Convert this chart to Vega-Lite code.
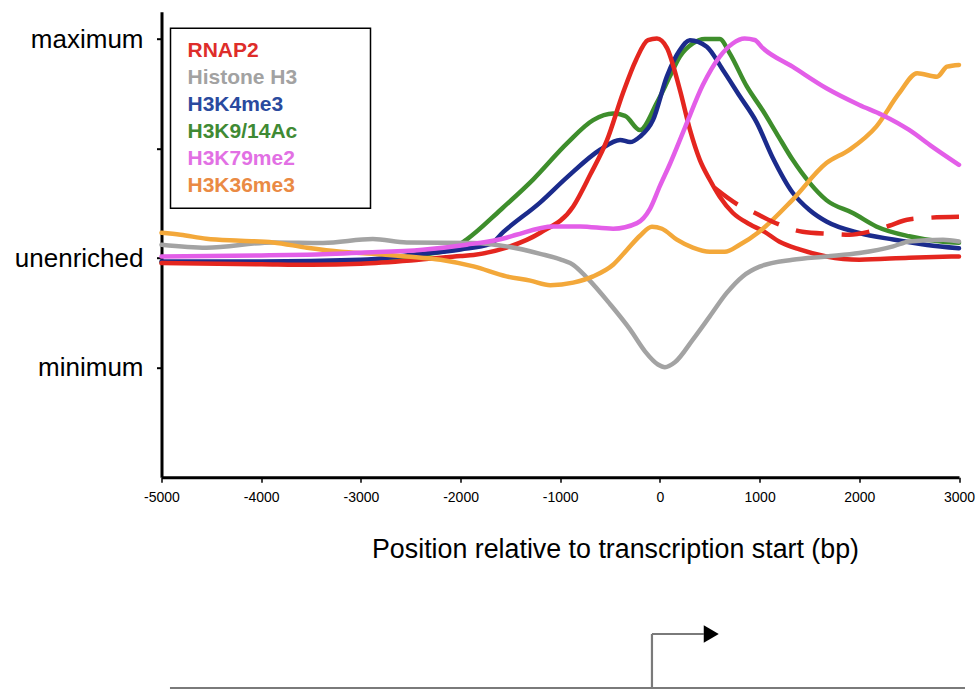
{
  "$schema": "https://vega.github.io/schema/vega-lite/v6.json",
  "background": "white",
  "autosize": {"type": "none"},
  "padding": {"left": 161.5, "top": 11.7, "right": 19, "bottom": 211.7},
  "width": 797.5,
  "height": 465.6,
  "config": {"font": "Liberation Sans", "view": {"stroke": null}},
  "resolve": {"scale": {"y": "independent"}, "axis": {"y": "independent"}},
  "layer": [
    {
      "data": {"values": [
        {"series": "H3K9/14Ac", "part": "solid", "pos": -5000, "enrich": -0.04},
        {"series": "H3K9/14Ac", "part": "solid", "pos": -4000, "enrich": -0.04},
        {"series": "H3K9/14Ac", "part": "solid", "pos": -3000, "enrich": -0.03},
        {"series": "H3K9/14Ac", "part": "solid", "pos": -2400, "enrich": 0.03},
        {"series": "H3K9/14Ac", "part": "solid", "pos": -2100, "enrich": 0.08},
        {"series": "H3K9/14Ac", "part": "solid", "pos": -1940, "enrich": 0.17},
        {"series": "H3K9/14Ac", "part": "solid", "pos": -1600, "enrich": 0.44},
        {"series": "H3K9/14Ac", "part": "solid", "pos": -1270, "enrich": 0.72},
        {"series": "H3K9/14Ac", "part": "solid", "pos": -930, "enrich": 1.05},
        {"series": "H3K9/14Ac", "part": "solid", "pos": -670, "enrich": 1.26},
        {"series": "H3K9/14Ac", "part": "solid", "pos": -470, "enrich": 1.32},
        {"series": "H3K9/14Ac", "part": "solid", "pos": -350, "enrich": 1.30},
        {"series": "H3K9/14Ac", "part": "solid", "pos": -200, "enrich": 1.17},
        {"series": "H3K9/14Ac", "part": "solid", "pos": -30, "enrich": 1.42},
        {"series": "H3K9/14Ac", "part": "solid", "pos": 100, "enrich": 1.66},
        {"series": "H3K9/14Ac", "part": "solid", "pos": 200, "enrich": 1.84},
        {"series": "H3K9/14Ac", "part": "solid", "pos": 330, "enrich": 1.96},
        {"series": "H3K9/14Ac", "part": "solid", "pos": 450, "enrich": 2.0},
        {"series": "H3K9/14Ac", "part": "solid", "pos": 600, "enrich": 2.0},
        {"series": "H3K9/14Ac", "part": "solid", "pos": 700, "enrich": 1.87},
        {"series": "H3K9/14Ac", "part": "solid", "pos": 870, "enrich": 1.57},
        {"series": "H3K9/14Ac", "part": "solid", "pos": 1030, "enrich": 1.35},
        {"series": "H3K9/14Ac", "part": "solid", "pos": 1170, "enrich": 1.14},
        {"series": "H3K9/14Ac", "part": "solid", "pos": 1330, "enrich": 0.90},
        {"series": "H3K9/14Ac", "part": "solid", "pos": 1500, "enrich": 0.69},
        {"series": "H3K9/14Ac", "part": "solid", "pos": 1670, "enrich": 0.53},
        {"series": "H3K9/14Ac", "part": "solid", "pos": 1940, "enrich": 0.41},
        {"series": "H3K9/14Ac", "part": "solid", "pos": 2170, "enrich": 0.29},
        {"series": "H3K9/14Ac", "part": "solid", "pos": 2500, "enrich": 0.20},
        {"series": "H3K9/14Ac", "part": "solid", "pos": 2840, "enrich": 0.15},
        {"series": "H3K9/14Ac", "part": "solid", "pos": 3000, "enrich": 0.14},

        {"series": "H3K4me3", "part": "solid", "pos": -5000, "enrich": -0.03},
        {"series": "H3K4me3", "part": "solid", "pos": -4000, "enrich": -0.03},
        {"series": "H3K4me3", "part": "solid", "pos": -3000, "enrich": -0.015},
        {"series": "H3K4me3", "part": "solid", "pos": -2500, "enrich": 0.03},
        {"series": "H3K4me3", "part": "solid", "pos": -2000, "enrich": 0.08},
        {"series": "H3K4me3", "part": "solid", "pos": -1700, "enrich": 0.13},
        {"series": "H3K4me3", "part": "solid", "pos": -1570, "enrich": 0.24},
        {"series": "H3K4me3", "part": "solid", "pos": -1200, "enrich": 0.51},
        {"series": "H3K4me3", "part": "solid", "pos": -930, "enrich": 0.74},
        {"series": "H3K4me3", "part": "solid", "pos": -600, "enrich": 0.99},
        {"series": "H3K4me3", "part": "solid", "pos": -400, "enrich": 1.08},
        {"series": "H3K4me3", "part": "solid", "pos": -300, "enrich": 1.06},
        {"series": "H3K4me3", "part": "solid", "pos": -200, "enrich": 1.11},
        {"series": "H3K4me3", "part": "solid", "pos": -70, "enrich": 1.26},
        {"series": "H3K4me3", "part": "solid", "pos": 70, "enrich": 1.66},
        {"series": "H3K4me3", "part": "solid", "pos": 200, "enrich": 1.90},
        {"series": "H3K4me3", "part": "solid", "pos": 300, "enrich": 1.99},
        {"series": "H3K4me3", "part": "solid", "pos": 470, "enrich": 1.93},
        {"series": "H3K4me3", "part": "solid", "pos": 630, "enrich": 1.72},
        {"series": "H3K4me3", "part": "solid", "pos": 800, "enrich": 1.48},
        {"series": "H3K4me3", "part": "solid", "pos": 970, "enrich": 1.24},
        {"series": "H3K4me3", "part": "solid", "pos": 1130, "enrich": 0.92},
        {"series": "H3K4me3", "part": "solid", "pos": 1330, "enrich": 0.60},
        {"series": "H3K4me3", "part": "solid", "pos": 1500, "enrich": 0.44},
        {"series": "H3K4me3", "part": "solid", "pos": 1670, "enrich": 0.335},
        {"series": "H3K4me3", "part": "solid", "pos": 2000, "enrich": 0.23},
        {"series": "H3K4me3", "part": "solid", "pos": 2340, "enrich": 0.17},
        {"series": "H3K4me3", "part": "solid", "pos": 2680, "enrich": 0.12},
        {"series": "H3K4me3", "part": "solid", "pos": 3000, "enrich": 0.09},

        {"series": "RNAP2", "part": "solid", "pos": -5000, "enrich": -0.045},
        {"series": "RNAP2", "part": "solid", "pos": -4000, "enrich": -0.055},
        {"series": "RNAP2", "part": "solid", "pos": -3500, "enrich": -0.06},
        {"series": "RNAP2", "part": "solid", "pos": -3000, "enrich": -0.05},
        {"series": "RNAP2", "part": "solid", "pos": -2500, "enrich": -0.02},
        {"series": "RNAP2", "part": "solid", "pos": -2000, "enrich": 0.02},
        {"series": "RNAP2", "part": "solid", "pos": -1870, "enrich": 0.03},
        {"series": "RNAP2", "part": "solid", "pos": -1540, "enrich": 0.096},
        {"series": "RNAP2", "part": "solid", "pos": -1200, "enrich": 0.232},
        {"series": "RNAP2", "part": "solid", "pos": -870, "enrich": 0.472},
        {"series": "RNAP2", "part": "solid", "pos": -700, "enrich": 0.761},
        {"series": "RNAP2", "part": "solid", "pos": -530, "enrich": 1.08},
        {"series": "RNAP2", "part": "solid", "pos": -370, "enrich": 1.51},
        {"series": "RNAP2", "part": "solid", "pos": -240, "enrich": 1.81},
        {"series": "RNAP2", "part": "solid", "pos": -120, "enrich": 1.99},
        {"series": "RNAP2", "part": "solid", "pos": -30, "enrich": 2.005},
        {"series": "RNAP2", "part": "solid", "pos": 70, "enrich": 1.92},
        {"series": "RNAP2", "part": "solid", "pos": 200, "enrich": 1.536},
        {"series": "RNAP2", "part": "solid", "pos": 300, "enrich": 1.176},
        {"series": "RNAP2", "part": "solid", "pos": 400, "enrich": 0.898},
        {"series": "RNAP2", "part": "solid", "pos": 500, "enrich": 0.716},
        {"series": "RNAP2", "part": "solid", "pos": 600, "enrich": 0.561},
        {"series": "RNAP2", "part": "solid", "pos": 730, "enrich": 0.415},
        {"series": "RNAP2", "part": "solid", "pos": 900, "enrich": 0.31},
        {"series": "RNAP2", "part": "solid", "pos": 1050, "enrich": 0.24},
        {"series": "RNAP2", "part": "solid", "pos": 1200, "enrich": 0.15},
        {"series": "RNAP2", "part": "solid", "pos": 1400, "enrich": 0.08},
        {"series": "RNAP2", "part": "solid", "pos": 1670, "enrich": 0.016},
        {"series": "RNAP2", "part": "solid", "pos": 2000, "enrich": -0.014},
        {"series": "RNAP2", "part": "solid", "pos": 2500, "enrich": 0.005},
        {"series": "RNAP2", "part": "solid", "pos": 3000, "enrich": 0.016},

        {"series": "RNAP2", "part": "dashed", "pos": 550, "enrich": 0.64},
        {"series": "RNAP2", "part": "dashed", "pos": 800, "enrich": 0.479},
        {"series": "RNAP2", "part": "dashed", "pos": 950, "enrich": 0.415},
        {"series": "RNAP2", "part": "dashed", "pos": 1130, "enrich": 0.333},
        {"series": "RNAP2", "part": "dashed", "pos": 1430, "enrich": 0.242},
        {"series": "RNAP2", "part": "dashed", "pos": 1700, "enrich": 0.223},
        {"series": "RNAP2", "part": "dashed", "pos": 1900, "enrich": 0.214},
        {"series": "RNAP2", "part": "dashed", "pos": 2100, "enrich": 0.242},
        {"series": "RNAP2", "part": "dashed", "pos": 2300, "enrich": 0.296},
        {"series": "RNAP2", "part": "dashed", "pos": 2480, "enrich": 0.351},
        {"series": "RNAP2", "part": "dashed", "pos": 2700, "enrich": 0.369},
        {"series": "RNAP2", "part": "dashed", "pos": 3000, "enrich": 0.378},

        {"series": "Histone H3", "part": "solid", "pos": -5000, "enrich": 0.123},
        {"series": "Histone H3", "part": "solid", "pos": -4550, "enrich": 0.096},
        {"series": "Histone H3", "part": "solid", "pos": -3880, "enrich": 0.144},
        {"series": "Histone H3", "part": "solid", "pos": -3380, "enrich": 0.139},
        {"series": "Histone H3", "part": "solid", "pos": -2880, "enrich": 0.175},
        {"series": "Histone H3", "part": "solid", "pos": -2540, "enrich": 0.144},
        {"series": "Histone H3", "part": "solid", "pos": -1870, "enrich": 0.139},
        {"series": "Histone H3", "part": "solid", "pos": -1540, "enrich": 0.108},
        {"series": "Histone H3", "part": "solid", "pos": -1200, "enrich": 0.04},
        {"series": "Histone H3", "part": "solid", "pos": -1000, "enrich": -0.01},
        {"series": "Histone H3", "part": "solid", "pos": -870, "enrich": -0.06},
        {"series": "Histone H3", "part": "solid", "pos": -730, "enrich": -0.18},
        {"series": "Histone H3", "part": "solid", "pos": -500, "enrich": -0.42},
        {"series": "Histone H3", "part": "solid", "pos": -300, "enrich": -0.65},
        {"series": "Histone H3", "part": "solid", "pos": -150, "enrich": -0.85},
        {"series": "Histone H3", "part": "solid", "pos": -20, "enrich": -0.97},
        {"series": "Histone H3", "part": "solid", "pos": 50, "enrich": -0.995},
        {"series": "Histone H3", "part": "solid", "pos": 150, "enrich": -0.95},
        {"series": "Histone H3", "part": "solid", "pos": 330, "enrich": -0.743},
        {"series": "Histone H3", "part": "solid", "pos": 500, "enrich": -0.531},
        {"series": "Histone H3", "part": "solid", "pos": 670, "enrich": -0.317},
        {"series": "Histone H3", "part": "solid", "pos": 830, "enrich": -0.166},
        {"series": "Histone H3", "part": "solid", "pos": 1000, "enrich": -0.077},
        {"series": "Histone H3", "part": "solid", "pos": 1330, "enrich": -0.014},
        {"series": "Histone H3", "part": "solid", "pos": 1670, "enrich": 0.016},
        {"series": "Histone H3", "part": "solid", "pos": 2000, "enrich": 0.047},
        {"series": "Histone H3", "part": "solid", "pos": 2340, "enrich": 0.108},
        {"series": "Histone H3", "part": "solid", "pos": 2500, "enrich": 0.153},
        {"series": "Histone H3", "part": "solid", "pos": 2840, "enrich": 0.169},
        {"series": "Histone H3", "part": "solid", "pos": 3000, "enrich": 0.153},

        {"series": "H3K36me3", "part": "solid", "pos": -5000, "enrich": 0.232},
        {"series": "H3K36me3", "part": "solid", "pos": -4810, "enrich": 0.214},
        {"series": "H3K36me3", "part": "solid", "pos": -4550, "enrich": 0.178},
        {"series": "H3K36me3", "part": "solid", "pos": -4210, "enrich": 0.160},
        {"series": "H3K36me3", "part": "solid", "pos": -3880, "enrich": 0.144},
        {"series": "H3K36me3", "part": "solid", "pos": -3540, "enrich": 0.096},
        {"series": "H3K36me3", "part": "solid", "pos": -3200, "enrich": 0.059},
        {"series": "H3K36me3", "part": "solid", "pos": -2880, "enrich": 0.041},
        {"series": "H3K36me3", "part": "solid", "pos": -2540, "enrich": 0.016},
        {"series": "H3K36me3", "part": "solid", "pos": -2200, "enrich": -0.014},
        {"series": "H3K36me3", "part": "solid", "pos": -1870, "enrich": -0.075},
        {"series": "H3K36me3", "part": "solid", "pos": -1540, "enrich": -0.166},
        {"series": "H3K36me3", "part": "solid", "pos": -1300, "enrich": -0.205},
        {"series": "H3K36me3", "part": "solid", "pos": -1100, "enrich": -0.246},
        {"series": "H3K36me3", "part": "solid", "pos": -870, "enrich": -0.223},
        {"series": "H3K36me3", "part": "solid", "pos": -670, "enrich": -0.166},
        {"series": "H3K36me3", "part": "solid", "pos": -470, "enrich": -0.06},
        {"series": "H3K36me3", "part": "solid", "pos": -330, "enrich": 0.077},
        {"series": "H3K36me3", "part": "solid", "pos": -200, "enrich": 0.205},
        {"series": "H3K36me3", "part": "solid", "pos": -80, "enrich": 0.287},
        {"series": "H3K36me3", "part": "solid", "pos": 20, "enrich": 0.269},
        {"series": "H3K36me3", "part": "solid", "pos": 170, "enrich": 0.169},
        {"series": "H3K36me3", "part": "solid", "pos": 330, "enrich": 0.096},
        {"series": "H3K36me3", "part": "solid", "pos": 500, "enrich": 0.059},
        {"series": "H3K36me3", "part": "solid", "pos": 650, "enrich": 0.059},
        {"series": "H3K36me3", "part": "solid", "pos": 800, "enrich": 0.123},
        {"series": "H3K36me3", "part": "solid", "pos": 1000, "enrich": 0.244},
        {"series": "H3K36me3", "part": "solid", "pos": 1330, "enrich": 0.533},
        {"series": "H3K36me3", "part": "solid", "pos": 1670, "enrich": 0.868},
        {"series": "H3K36me3", "part": "solid", "pos": 1900, "enrich": 0.989},
        {"series": "H3K36me3", "part": "solid", "pos": 2170, "enrich": 1.201},
        {"series": "H3K36me3", "part": "solid", "pos": 2400, "enrich": 1.506},
        {"series": "H3K36me3", "part": "solid", "pos": 2580, "enrich": 1.688},
        {"series": "H3K36me3", "part": "solid", "pos": 2780, "enrich": 1.657},
        {"series": "H3K36me3", "part": "solid", "pos": 2880, "enrich": 1.748},
        {"series": "H3K36me3", "part": "solid", "pos": 3000, "enrich": 1.764},

        {"series": "H3K79me2", "part": "solid", "pos": -5000, "enrich": 0.016},
        {"series": "H3K79me2", "part": "solid", "pos": -4000, "enrich": 0.025},
        {"series": "H3K79me2", "part": "solid", "pos": -3540, "enrich": 0.032},
        {"series": "H3K79me2", "part": "solid", "pos": -3000, "enrich": 0.05},
        {"series": "H3K79me2", "part": "solid", "pos": -2380, "enrich": 0.077},
        {"series": "H3K79me2", "part": "solid", "pos": -1940, "enrich": 0.123},
        {"series": "H3K79me2", "part": "solid", "pos": -1540, "enrich": 0.187},
        {"series": "H3K79me2", "part": "solid", "pos": -1440, "enrich": 0.214},
        {"series": "H3K79me2", "part": "solid", "pos": -1070, "enrich": 0.290},
        {"series": "H3K79me2", "part": "solid", "pos": -800, "enrich": 0.290},
        {"series": "H3K79me2", "part": "solid", "pos": -470, "enrich": 0.269},
        {"series": "H3K79me2", "part": "solid", "pos": -230, "enrich": 0.32},
        {"series": "H3K79me2", "part": "solid", "pos": -100, "enrich": 0.45},
        {"series": "H3K79me2", "part": "solid", "pos": 0, "enrich": 0.66},
        {"series": "H3K79me2", "part": "solid", "pos": 100, "enrich": 0.86},
        {"series": "H3K79me2", "part": "solid", "pos": 250, "enrich": 1.19},
        {"series": "H3K79me2", "part": "solid", "pos": 430, "enrich": 1.58},
        {"series": "H3K79me2", "part": "solid", "pos": 600, "enrich": 1.84},
        {"series": "H3K79me2", "part": "solid", "pos": 730, "enrich": 1.96},
        {"series": "H3K79me2", "part": "solid", "pos": 850, "enrich": 2.005},
        {"series": "H3K79me2", "part": "solid", "pos": 950, "enrich": 1.992},
        {"series": "H3K79me2", "part": "solid", "pos": 1030, "enrich": 1.919},
        {"series": "H3K79me2", "part": "solid", "pos": 1330, "enrich": 1.748},
        {"series": "H3K79me2", "part": "solid", "pos": 1670, "enrich": 1.551},
        {"series": "H3K79me2", "part": "solid", "pos": 2000, "enrich": 1.399},
        {"series": "H3K79me2", "part": "solid", "pos": 2230, "enrich": 1.308},
        {"series": "H3K79me2", "part": "solid", "pos": 2500, "enrich": 1.171},
        {"series": "H3K79me2", "part": "solid", "pos": 2730, "enrich": 1.019},
        {"series": "H3K79me2", "part": "solid", "pos": 3000, "enrich": 0.852}
      ]},
      "encoding": {
        "x": {
          "field": "pos", "type": "quantitative",
          "scale": {"domain": [-5000, 3000], "nice": false, "zero": false},
          "axis": {
            "values": [-5000, -4000, -3000, -2000, -1000, 0, 1000, 2000, 3000],
            "labelExpr": "toString(datum.value)",
            "title": "Position relative to transcription start (bp)",
            "titleFontSize": 26.8, "titleFontWeight": "normal", "titleColor": "black",
            "titleX": 453.5, "titleY": 80, "titleAlign": "center", "titleBaseline": "alphabetic",
            "grid": false, "domainColor": "black", "domainWidth": 3,
            "tickColor": "black", "tickWidth": 1.5, "tickSize": 5,
            "labelFontSize": 14, "labelColor": "black", "labelPadding": 8, "labelFlush": false
          }
        },
        "y": {
          "field": "enrich", "type": "quantitative",
          "scale": {"domain": [-2, 2.25], "nice": false, "zero": false},
          "axis": {
            "values": [-1, 0, 1, 2],
            "labelExpr": "datum.value == 2 ? 'maximum' : datum.value == 0 ? 'unenriched' : datum.value == -1 ? 'minimum' : ''",
            "title": null, "grid": false, "domainColor": "black", "domainWidth": 3,
            "tickColor": "black", "tickWidth": 2, "tickSize": 5,
            "labelFontSize": 26, "labelColor": "black", "labelPadding": 13.5
          }
        },
        "color": {
          "field": "series", "type": "nominal",
          "scale": {
            "domain": ["RNAP2", "Histone H3", "H3K4me3", "H3K9/14Ac", "H3K79me2", "H3K36me3"],
            "range": ["#e4261f", "#a3a3a3", "#1b2b8c", "#3e8e2c", "#e35ee8", "#f3a83a"]
          },
          "legend": {
            "orient": "none", "legendX": 9, "legendY": 16.6, "direction": "vertical",
            "title": null, "strokeColor": "black", "fillColor": "white",
            "padding": 12, "labelFontSize": 21, "labelFontWeight": "bold",
            "labelOffset": -16, "rowPadding": 5, "labelLimit": 300,
            "symbolSize": 4, "symbolOpacity": 0, "symbolStrokeWidth": 0, "symbolType": "square",
            "encode": {
              "legend": {"update": {"strokeWidth": {"value": 1.5}}},
              "labels": {"update": {"fill": {"signal": "datum.value == 'RNAP2' ? '#de2d2a' : datum.value == 'Histone H3' ? '#a2a2a2' : datum.value == 'H3K4me3' ? '#2a4a9e' : datum.value == 'H3K9/14Ac' ? '#3f8a34' : datum.value == 'H3K79me2' ? '#e270e4' : '#ea8a44'"}}},
              "symbols": {"update": {"x": {"value": 175}}}
            }
          }
        }
      },
      "layer": [
        {
          "transform": [{"filter": "datum.part === 'solid'"}],
          "mark": {"type": "line", "strokeWidth": 4.5, "strokeCap": "round", "strokeJoin": "round", "interpolate": "monotone"}
        },
        {
          "transform": [{"filter": "datum.part === 'dashed'"}],
          "mark": {"type": "line", "strokeWidth": 4.5, "strokeDash": [28, 18], "interpolate": "monotone"}
        }
      ]
    },
    {
      "data": {"values": [
        {"seg": "gene", "start": -4915, "end": 3060, "level": 0, "level2": 0},
        {"seg": "tss", "start": -80, "end": -80, "level": 0, "level2": 1},
        {"seg": "direction", "start": -80, "end": 440, "level": 1, "level2": 1},
        {"seg": "arrowhead", "start": 515, "level": 1}
      ]},
      "layer": [
        {
          "transform": [{"filter": "datum.seg !== 'arrowhead'"}],
          "mark": {"type": "rule", "color": "#7a7a7a", "strokeWidth": 2.2},
          "encoding": {
            "x": {"field": "start", "type": "quantitative"},
            "x2": {"field": "end"},
            "y": {"field": "level", "type": "quantitative", "scale": {"domain": [0, 1], "range": [676.3, 622.3], "nice": false, "zero": false}, "axis": null},
            "y2": {"field": "level2"}
          }
        },
        {
          "transform": [{"filter": "datum.seg === 'arrowhead'"}],
          "mark": {"type": "point", "shape": "triangle-right", "filled": true, "color": "black", "size": 300, "opacity": 1},
          "encoding": {
            "x": {"field": "start", "type": "quantitative"},
            "y": {"field": "level", "type": "quantitative", "axis": null}
          }
        }
      ]
    }
  ]
}
